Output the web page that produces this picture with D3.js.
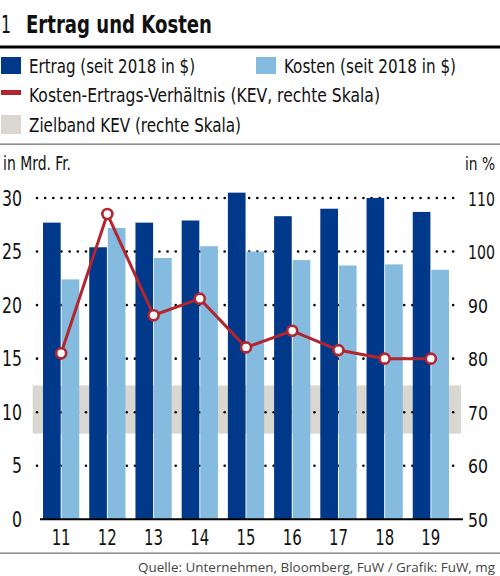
<!DOCTYPE html>
<html>
<head>
<meta charset="utf-8">
<script src="https://cdn.jsdelivr.net/npm/d3@7"></script>
<style>
  body { margin: 0; background: #fff; }
  text { font-family: "Liberation Sans Narrow", "DejaVu Sans Condensed", sans-serif; fill: #111; }
</style>
</head>
<body>
<script>
// data
var years = ["11", "12", "13", "14", "15", "16", "17", "18", "19"];
var ertrag = [27.7, 25.4, 27.7, 27.9, 30.5, 28.3, 29.0, 30.0, 28.7];
var kosten = [22.4, 27.2, 24.4, 25.5, 25.0, 24.2, 23.7, 23.8, 23.3];
var kev = [81.0, 107.0, 88.1, 91.2, 82.1, 85.2, 81.6, 80.0, 80.0];
var zielband = [66, 75];
var leftTicks = [0, 5, 10, 15, 20, 25, 30];
var rightTicks = [50, 60, 70, 80, 90, 100, 110];

var colorErtrag = "#00388a";
var colorKosten = "#84bbdf";
var colorKev = "#b3252f";
var colorBand = "#d9d7d0";

var width = 500, height = 576;
var plotBottom = 519.3, plotTop = 198;
var digitWidth = {1: 10, 2: 20, 3: 27};

var svg = d3.select("body").append("svg")
  .attr("width", width)
  .attr("height", height);

// squeeze a text to the width it has in the print layout
function fit(sel, w) {
  sel.attr("textLength", w).attr("lengthAdjust", "spacingAndGlyphs");
}

// title
svg.append("text")
  .attr("x", 1).attr("y", 33)
  .style("font-size", "25px")
  .text("1")
  .call(fit, 10);
svg.append("text")
  .attr("x", 26).attr("y", 33)
  .style("font-size", "25px")
  .style("font-weight", "bold")
  .text("Ertrag und Kosten")
  .call(fit, 186);

svg.append("rect")
  .attr("x", 0).attr("y", 45.5)
  .attr("width", width).attr("height", 3)
  .style("fill", "#000");

// legend
var legend = [
  {label: "Ertrag (seit 2018 in $)", x: 1, y: 57, h: 17, tx: 29, ty: 73, w: 166, c: colorErtrag},
  {label: "Kosten (seit 2018 in $)", x: 256, y: 57, h: 17, tx: 284, ty: 73, w: 172, c: colorKosten},
  {label: "Kosten-Ertrags-Verhältnis (KEV, rechte Skala)", x: 1, y: 90, h: 5, tx: 29, ty: 102, w: 351, c: colorKev},
  {label: "Zielband KEV (rechte Skala)", x: 1, y: 115, h: 19, tx: 29, ty: 132, w: 212, c: colorBand}
];
var lg = svg.selectAll(".legend")
  .data(legend)
  .enter().append("g")
  .attr("class", "legend");
lg.append("rect")
  .attr("x", function(d) { return d.x; })
  .attr("y", function(d) { return d.y; })
  .attr("width", 20)
  .attr("height", function(d) { return d.h; })
  .style("fill", function(d) { return d.c; });
lg.append("text")
  .attr("x", function(d) { return d.tx; })
  .attr("y", function(d) { return d.ty; })
  .attr("textLength", function(d) { return d.w; })
  .attr("lengthAdjust", "spacingAndGlyphs")
  .style("font-size", "19px")
  .text(function(d) { return d.label; });

svg.append("rect")
  .attr("x", 0).attr("y", 143.5)
  .attr("width", width).attr("height", 1.3)
  .style("fill", "#777");

svg.append("text")
  .attr("x", 3).attr("y", 170)
  .style("font-size", "19px")
  .text("in Mrd. Fr.")
  .call(fit, 68);
svg.append("text")
  .attr("x", 465).attr("y", 170)
  .style("font-size", "17px")
  .text("in %")
  .call(fit, 30);

// scales
var x = d3.scaleBand()
  .domain(years)
  .range([31, 461])
  .paddingInner(0.216)
  .paddingOuter(0.26);
var xs = d3.scaleBand()
  .domain(["ertrag", "kosten"])
  .range([0, x.bandwidth()])
  .paddingInner(0.05);
var yL = d3.scaleLinear().domain([0, 30]).range([plotBottom, plotTop]);
var yR = d3.scaleLinear().domain([50, 110]).range([plotBottom, plotTop]);

// target band
svg.append("rect")
  .attr("x", 32.7)
  .attr("width", 461 - 32.7)
  .attr("y", yR(zielband[1]))
  .attr("height", yR(zielband[0]) - yR(zielband[1]))
  .style("fill", colorBand);

// dotted grid, one small dot every 8 px
var dotX = d3.range(37, 458, 8.16);
leftTicks.filter(function(d) { return d > 0; }).forEach(function(t) {
  svg.append("g")
    .attr("class", "grid")
    .selectAll("circle")
    .data(dotX)
    .enter().append("circle")
    .attr("cx", function(d) { return d; })
    .attr("cy", yL(t))
    .attr("r", 1.3)
    .style("fill", "#000");
});

// bars
var groups = svg.selectAll(".year")
  .data(years)
  .enter().append("g")
  .attr("class", "year")
  .attr("transform", function(d) { return "translate(" + x(d) + ",0)"; });
groups.append("rect")
  .attr("x", xs("ertrag"))
  .attr("width", xs.bandwidth())
  .attr("y", function(d, i) { return yL(ertrag[i]); })
  .attr("height", function(d, i) { return plotBottom - yL(ertrag[i]); })
  .style("fill", colorErtrag);
groups.append("rect")
  .attr("x", xs("kosten"))
  .attr("width", xs.bandwidth())
  .attr("y", function(d, i) { return yL(kosten[i]); })
  .attr("height", function(d, i) { return plotBottom - yL(kosten[i]); })
  .style("fill", colorKosten);

// baseline
svg.append("line")
  .attr("x1", 40).attr("x2", 463)
  .attr("y1", plotBottom).attr("y2", plotBottom)
  .style("stroke", "#000")
  .style("stroke-width", 2);

// KEV line
var kevLine = d3.line()
  .x(function(d, i) { return x(years[i]) + x.bandwidth() / 2; })
  .y(function(d) { return yR(d); });
svg.append("path")
  .datum(kev)
  .attr("d", kevLine)
  .style("fill", "none")
  .style("stroke", colorKev)
  .style("stroke-width", 3);
svg.selectAll(".dot")
  .data(kev)
  .enter().append("circle")
  .attr("class", "dot")
  .attr("cx", function(d, i) { return x(years[i]) + x.bandwidth() / 2; })
  .attr("cy", function(d) { return yR(d); })
  .attr("r", 5)
  .style("fill", "#fff")
  .style("stroke", colorKev)
  .style("stroke-width", 2.6);

// axes labels
svg.selectAll(".ltick")
  .data(leftTicks)
  .enter().append("text")
  .attr("class", "ltick")
  .attr("x", function(d) { return 22 - digitWidth[String(d).length]; })
  .attr("y", function(d) { return yL(d) + 7.5; })
  .attr("textLength", function(d) { return digitWidth[String(d).length]; })
  .attr("lengthAdjust", "spacingAndGlyphs")
  .style("font-size", "21px")
  .text(function(d) { return d; });
svg.selectAll(".rtick")
  .data(rightTicks)
  .enter().append("text")
  .attr("class", "rtick")
  .attr("x", 468)
  .attr("y", function(d) { return yR(d) + 7.5; })
  .attr("textLength", function(d) { return digitWidth[String(d).length]; })
  .attr("lengthAdjust", "spacingAndGlyphs")
  .style("font-size", "19px")
  .text(function(d) { return d; });
svg.selectAll(".xlab")
  .data(years)
  .enter().append("text")
  .attr("class", "xlab")
  .attr("x", function(d) { return x(d) + x.bandwidth() / 2 - 9.5; })
  .attr("y", 545)
  .attr("textLength", 19)
  .attr("lengthAdjust", "spacingAndGlyphs")
  .style("font-size", "21px")
  .text(function(d) { return d; });

// footer
svg.append("rect")
  .attr("x", 0).attr("y", 552.5)
  .attr("width", width).attr("height", 1.3)
  .style("fill", "#777");
svg.append("text")
  .attr("x", 138).attr("y", 572)
  .style("font-family", "'Open Sans', sans-serif")
  .style("font-size", "13px")
  .style("fill", "#444")
  .text("Quelle: Unternehmen, Bloomberg, FuW / Grafik: FuW, mg")
  .call(fit, 357);
</script>
</body>
</html>
